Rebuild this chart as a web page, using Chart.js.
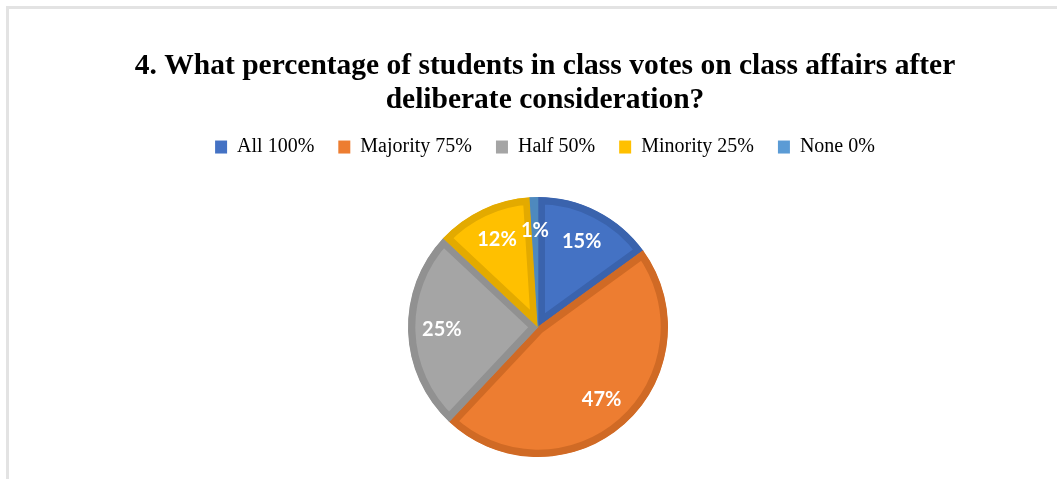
<!DOCTYPE html>
<html>
<head>
<meta charset="utf-8">
<script src="https://cdn.jsdelivr.net/npm/chart.js@4.4.1/dist/chart.umd.min.js"></script>
<style>
  html, body { margin: 0; padding: 0; background: #ffffff; }
  #wrap { position: relative; width: 1057px; height: 479px; overflow: hidden; }
  #frame { position: absolute; left: 6px; top: 6px; width: 1100px; height: 500px;
           border-left: 3px solid #e3e3e3; border-top: 3px solid #e3e3e3; }
  #c { position: absolute; left: 0; top: 0; }
</style>
</head>
<body>
<div id="wrap">
  <div id="frame"></div>
  <canvas id="c" width="1057" height="479"></canvas>
</div>
<script>
// Survey answers and their shares (percent)
const categories = ['All 100%', 'Majority 75%', 'Half 50%', 'Minority 25%', 'None 0%'];
const shares = [15, 47, 25, 12, 1];
const titleLines = [
  '4. What percentage of students in class votes on class affairs after',
  'deliberate consideration?'
];

// Office-style palette: slice fill and darker edge band
const fillColors = ['#4472C4', '#ED7D31', '#A5A5A5', '#FFC000', '#5B9BD5'];
const edgeColors = ['#3A63AD', '#D06A25', '#919191', '#E3AA00', '#4E89BE'];

// Percent labels placed inside each slice along its mid-angle
// (registered before pieShift so they are drawn inside the same translation)
const sliceLabels = {
  id: 'sliceLabels',
  afterDatasetsDraw(chart) {
    const ctx = chart.ctx;
    const meta = chart.getDatasetMeta(0);
    ctx.save();
    ctx.font = 'bold 20px Lato, "Open Sans", sans-serif';
    ctx.fillStyle = '#ffffff';
    ctx.textAlign = 'center';
    ctx.textBaseline = 'middle';
    meta.data.forEach((arc, i) => {
      const p = arc.getProps(['x', 'y', 'startAngle', 'endAngle', 'outerRadius'], true);
      const mid = (p.startAngle + p.endAngle) / 2;
      const r = p.outerRadius * 0.74;
      ctx.fillText(shares[i] + '%', p.x + Math.cos(mid) * r, p.y + Math.sin(mid) * r);
    });
    ctx.restore();
  }
};

// Nudge the pie (and its labels) a little left and down within the chart area
const pieShift = {
  id: 'pieShift',
  beforeDatasetsDraw(chart) { chart.ctx.save(); chart.ctx.translate(-7, 8); },
  afterDatasetsDraw(chart) { chart.ctx.restore(); }
};

// Pull the legend row a little closer to the title than its item padding allows
const legendLift = {
  id: 'legendLift',
  afterLayout(chart) {
    const lg = chart.legend;
    if (lg) { lg.top -= 4; lg.bottom -= 4; }
  }
};

new Chart(document.getElementById('c'), {
  type: 'pie',
  data: {
    labels: categories,
    datasets: [{
      data: shares,
      backgroundColor: fillColors,
      borderColor: edgeColors,
      borderWidth: 7,
      borderAlign: 'inner'
    }]
  },
  options: {
    responsive: false,
    animation: false,
    radius: 130,
    layout: { padding: { left: 33, right: 0, top: 0, bottom: 12 } },
    plugins: {
      tooltip: { enabled: false },
      title: {
        display: true,
        text: titleLines,
        color: '#000000',
        font: { family: '"Liberation Serif", "Times New Roman", serif', size: 29.5, weight: 'bold', lineHeight: 1.153 },
        padding: { top: 49, bottom: 0 }
      },
      legend: {
        position: 'top',
        labels: {
          color: '#000000',
          boxWidth: 12,
          boxHeight: 13,
          padding: 24,
          font: { family: '"Liberation Serif", "Times New Roman", serif', size: 20 },
          generateLabels(chart) {
            return categories.map((name, i) => ({
              text: name,
              fillStyle: fillColors[i],
              strokeStyle: fillColors[i],
              lineWidth: 0,
              fontColor: '#000000',
              index: i,
              hidden: false
            }));
          }
        }
      }
    }
  },
  plugins: [legendLift, sliceLabels, pieShift]
});
</script>
</body>
</html>
